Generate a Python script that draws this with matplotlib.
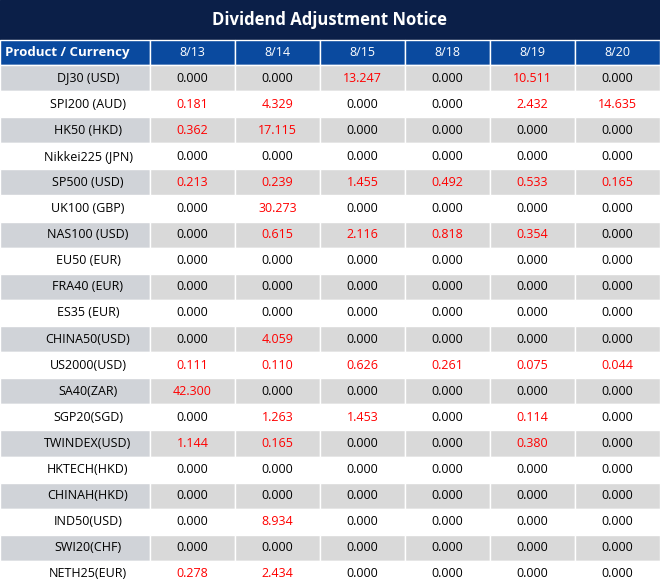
import matplotlib
matplotlib.use("Agg")
import matplotlib.pyplot as plt
from matplotlib.patches import Rectangle

title = "Dividend Adjustment Notice"
header = "Product / Currency"
dates = ["8/13", "8/14", "8/15", "8/18", "8/19", "8/20"]
products = ["DJ30 (USD)", "SPI200 (AUD)", "HK50 (HKD)", "Nikkei225 (JPN)", "SP500 (USD)",
            "UK100 (GBP)", "NAS100 (USD)", "EU50 (EUR)", "FRA40 (EUR)", "ES35 (EUR)",
            "CHINA50(USD)", "US2000(USD)", "SA40(ZAR)", "SGP20(SGD)", "TWINDEX(USD)",
            "HKTECH(HKD)", "CHINAH(HKD)", "IND50(USD)", "SWI20(CHF)", "NETH25(EUR)"]
values = [
    [0.000, 0.000, 13.247, 0.000, 10.511, 0.000],
    [0.181, 4.329, 0.000, 0.000, 2.432, 14.635],
    [0.362, 17.115, 0.000, 0.000, 0.000, 0.000],
    [0.000, 0.000, 0.000, 0.000, 0.000, 0.000],
    [0.213, 0.239, 1.455, 0.492, 0.533, 0.165],
    [0.000, 30.273, 0.000, 0.000, 0.000, 0.000],
    [0.000, 0.615, 2.116, 0.818, 0.354, 0.000],
    [0.000, 0.000, 0.000, 0.000, 0.000, 0.000],
    [0.000, 0.000, 0.000, 0.000, 0.000, 0.000],
    [0.000, 0.000, 0.000, 0.000, 0.000, 0.000],
    [0.000, 4.059, 0.000, 0.000, 0.000, 0.000],
    [0.111, 0.110, 0.626, 0.261, 0.075, 0.044],
    [42.300, 0.000, 0.000, 0.000, 0.000, 0.000],
    [0.000, 1.263, 1.453, 0.000, 0.114, 0.000],
    [1.144, 0.165, 0.000, 0.000, 0.380, 0.000],
    [0.000, 0.000, 0.000, 0.000, 0.000, 0.000],
    [0.000, 0.000, 0.000, 0.000, 0.000, 0.000],
    [0.000, 8.934, 0.000, 0.000, 0.000, 0.000],
    [0.000, 0.000, 0.000, 0.000, 0.000, 0.000],
    [0.278, 2.434, 0.000, 0.000, 0.000, 0.000],
]

W, H = 660, 587
plt.rcParams["font.family"] = "Open Sans"
fig = plt.figure(figsize=(W / 100, H / 100), dpi=100)
ax = fig.add_axes([0, 0, 1, 1])
ax.set_xlim(0, W)
ax.set_ylim(H, 0)
ax.axis("off")

navy = "#0b1f48"
blue = "#0a4a9f"
gray = "#d9d9d9"
gray_first = "#d0d3d8"

# title bar
ax.add_patch(Rectangle((0, 0), W, 39, color=navy))
ax.text(W / 2, 20, title, color="white", fontsize=12, fontweight="bold", ha="center", va="center")

first_w = 150
col_w = (W - first_w) / len(dates)
head_top, head_h = 40, 25
row_h = (H - head_top - head_h) / len(products)

def cell(x, y, w, h, fc):
    ax.add_patch(Rectangle((x, y), w, h, facecolor=fc, edgecolor="white", linewidth=1))

cell(0, head_top, first_w, head_h, blue)
ax.text(5, head_top + head_h / 2, header, color="white", fontsize=9.5, fontweight="bold",
        ha="left", va="center")
for j, d in enumerate(dates):
    x = first_w + j * col_w
    cell(x, head_top, col_w, head_h, blue)
    ax.text(x + col_w / 2, head_top + head_h / 2, d, color="white", fontsize=9, ha="center", va="center")

for i, (p, row) in enumerate(zip(products, values)):
    y = head_top + head_h + i * row_h
    shaded = i % 2 == 0
    cell(0, y, first_w, row_h, gray_first if shaded else "white")
    ax.text(88, y + row_h / 2, p, color="black", fontsize=9, ha="center", va="center")
    for j, v in enumerate(row):
        x = first_w + j * col_w
        cell(x, y, col_w, row_h, gray if shaded else "white")
        ax.text(x + col_w / 2, y + row_h / 2, f"{v:.3f}", fontsize=9, ha="center", va="center",
                color="#ff0000" if v > 0 else "black")

fig.savefig("out.png", dpi=100)
